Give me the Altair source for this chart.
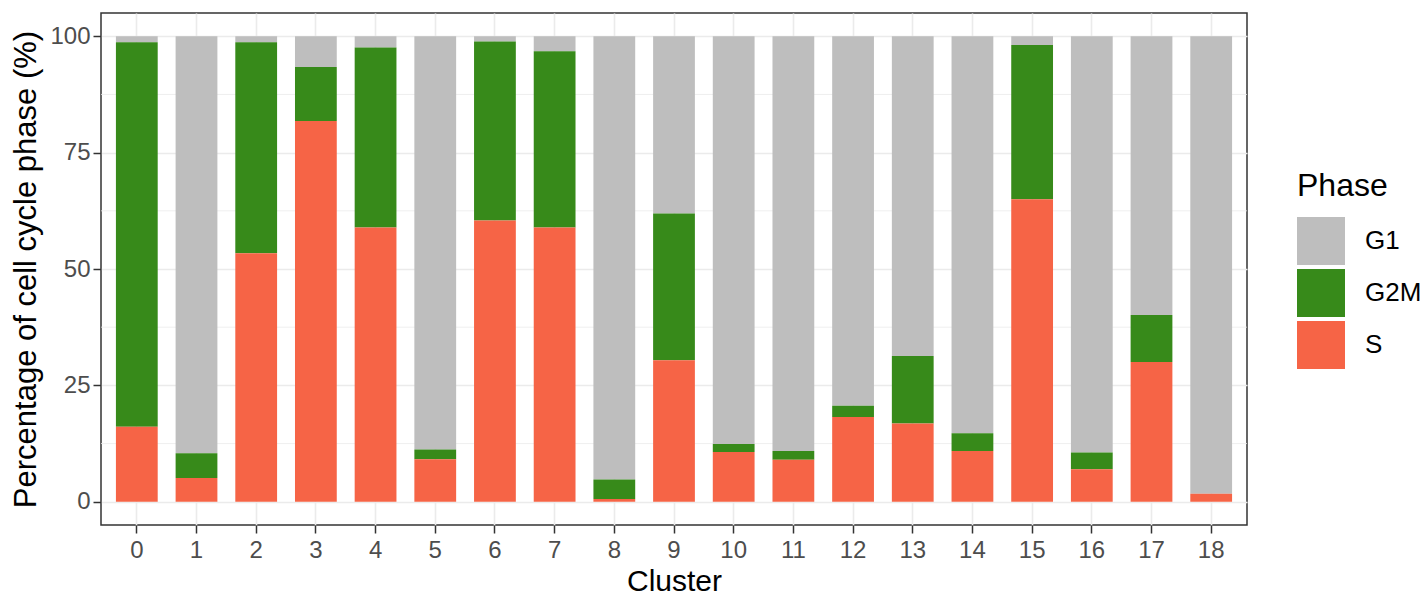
import altair as alt
import pandas as pd

clusters = [str(i) for i in range(19)]
phases = ["G1", "G2M", "S"]
s_pct   = [16.1, 5.1, 53.4, 81.8, 58.9, 9.1, 60.4, 58.9, 0.6, 30.4, 10.7, 9.0, 18.2, 16.8, 10.9, 65.0, 7.0, 30.0, 1.7]
g2m_pct = [82.6, 5.3, 45.3, 11.6, 38.7, 2.1, 38.5, 37.9, 4.2, 31.5, 1.7, 1.9, 2.4, 14.5, 3.8, 33.1, 3.6, 10.1, 0.0]
g1_pct  = [1.3, 89.6, 1.3, 6.6, 2.4, 88.8, 1.1, 3.2, 95.2, 38.1, 87.6, 89.1, 79.4, 68.7, 85.3, 1.9, 89.4, 59.9, 98.3]
colors = ["#BEBEBE", "#378A1A", "#F66446"]
y_ticks = [0, 25, 50, 75, 100]
y_minor = [12.5, 37.5, 62.5, 87.5]

stack_rank = {"S": 1, "G2M": 2, "G1": 3}
series = {"G1": g1_pct, "G2M": g2m_pct, "S": s_pct}
rows = []
for ph in phases:
    for c, v in zip(clusters, series[ph]):
        rows.append({"Cluster": c, "Phase": ph, "pct": v, "ord": stack_rank[ph]})
df = pd.DataFrame(rows)
minor_df = pd.DataFrame({"v": y_minor})

FONT = "Liberation Sans"

yscale = alt.Scale(domain=[-5, 105], nice=False, zero=False)

minor = alt.Chart(minor_df).mark_rule(color="#EBEBEB", strokeWidth=0.8).encode(
    y=alt.Y("v:Q", scale=yscale)
)

bars = alt.Chart(df).mark_bar().encode(
    x=alt.X(
        "Cluster:O",
        sort=clusters,
        scale=alt.Scale(paddingInner=0.3, paddingOuter=0.25),
        axis=alt.Axis(
            title="Cluster", labelAngle=0, bandPosition=0.5,
            grid=True, gridColor="#EBEBEB", gridWidth=1.6,
            domain=False, ticks=True, tickSize=8, tickWidth=1.5, tickColor="#333333",
            labelFont=FONT, labelFontSize=24, labelColor="#4D4D4D", labelPadding=5,
            titleFont=FONT, titleFontSize=30, titleFontWeight="normal", titleColor="#000000",
            titlePadding=4,
        ),
    ),
    y=alt.Y(
        "pct:Q",
        stack="zero",
        scale=yscale,
        axis=alt.Axis(
            title="Percentage of cell cycle phase (%)", values=y_ticks,
            grid=True, gridColor="#EBEBEB", gridWidth=1.6,
            domain=False, ticks=True, tickSize=8, tickWidth=1.5, tickColor="#333333",
            labelFont=FONT, labelFontSize=24, labelColor="#4D4D4D", labelPadding=3,
            titleFont=FONT, titleFontSize=31, titleFontWeight="normal", titleColor="#000000",
            titlePadding=7,
        ),
    ),
    color=alt.Color(
        "Phase:N",
        scale=alt.Scale(domain=phases, range=colors),
        legend=alt.Legend(
            title="Phase", orient="none", legendX=1196, legendY=158,
            symbolType="square", symbolSize=2304, symbolStrokeWidth=0,
            rowPadding=4, labelOffset=20,
            labelFont=FONT, labelFontSize=26, labelColor="#000000",
            titleFont=FONT, titleFontSize=32, titleFontWeight="normal", titleColor="#000000",
            titlePadding=14, padding=0,
        ),
    ),
    order=alt.Order("ord:Q", sort="ascending"),
)

chart = alt.layer(minor, bars).properties(
    width=1146, height=512,
    autosize=alt.AutoSizeParams(type="none"),
    padding={"left": 93, "top": 5, "right": 173, "bottom": 72},
).configure(
    background="white"
).configure_view(
    stroke="#333333", strokeWidth=1.5
)

chart.save("out.html", embed_options={"renderer": "svg", "actions": False})
